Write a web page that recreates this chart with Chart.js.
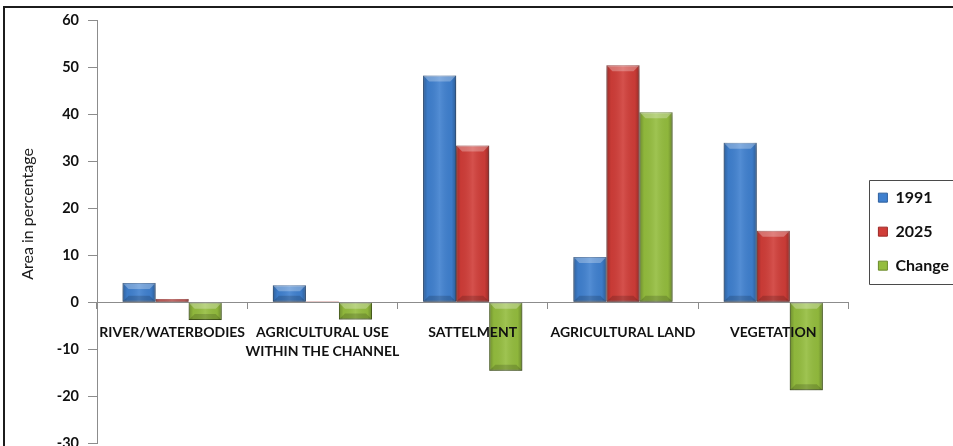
<!DOCTYPE html>
<html>
<head>
<meta charset="utf-8">
<title>Land use change 1991-2025</title>
<script src="https://cdn.jsdelivr.net/npm/chart.js@4"></script>
<style>
  html, body { margin: 0; padding: 0; background: #fff; overflow: hidden; }
  body { width: 953px; height: 446px; }
  /* the plot runs on below the visible frame, so the -30 row is cut in half */
  #wrap { position: relative; width: 953px; height: 461px; }
</style>
</head>
<body>
<div id="wrap"><canvas id="landUseChart"></canvas></div>
<script>
// land use classes and their share of the area (%)
const categories = [
  'RIVER/WATERBODIES',
  ['AGRICULTURAL USE', 'WITHIN THE CHANNEL'],
  'SATTELMENT',
  'AGRICULTURAL LAND',
  'VEGETATION'
];
const area1991 = [4.1, 3.6, 48.2, 9.6, 33.9];
const area2025 = [0.7, 0.2, 33.3, 50.4, 15.2];
const areaChange = [-3.8, -3.7, -14.6, 40.4, -18.7];
const yMin = -30, yMax = 60, yStep = 10;

Chart.defaults.font.family = 'Lato, "Open Sans", sans-serif';
const axisGrey = '#8c8c8c';

// outer frame, legend frame and the rotated axis title
const decorations = {
  id: 'decorations',
  afterLayout(chart) {
    chart.legend.left += 12;
    chart.legend.right += 12;
  },
  afterDraw(chart) {
    const {ctx, width, height} = chart;
    ctx.save();
    ctx.strokeStyle = '#1c1c1c';
    ctx.lineWidth = 2;
    ctx.beginPath();
    ctx.moveTo(4, height);
    ctx.lineTo(4, 7);
    ctx.lineTo(width, 7);
    ctx.stroke();

    const hb = chart.legend.legendHitBoxes;
    if (hb && hb.length) {
      const first = hb[0], last = hb[hb.length - 1];
      const x0 = Math.round(first.left - 9) + 0.5;
      const y0 = Math.round(first.top - 10) + 0.5;
      const y1 = Math.round(last.top + last.height + 10) + 0.5;
      ctx.strokeStyle = '#4a4a4a';
      ctx.lineWidth = 1;
      ctx.beginPath();
      ctx.moveTo(width + 5, y0);
      ctx.lineTo(x0, y0);
      ctx.lineTo(x0, y1);
      ctx.lineTo(width + 5, y1);
      ctx.stroke();
    }

    ctx.translate(28, 214);
    ctx.rotate(-Math.PI / 2);
    ctx.fillStyle = '#1a1a1a';
    ctx.font = '16px Lato, "Open Sans", sans-serif';
    ctx.textAlign = 'center';
    ctx.textBaseline = 'middle';
    ctx.fillText('Area in percentage', 0, 0);
    ctx.restore();
  }
};

// soft drop shadow plus a bevelled face on every bar
const bevel = {
  id: 'bevel',
  beforeDatasetsDraw(chart) {
    const ctx = chart.ctx;
    ctx.save();
    ctx.shadowColor = 'rgba(0,0,0,0.32)';
    ctx.shadowBlur = 6;
    ctx.shadowOffsetY = 3;
  },
  afterDatasetsDraw(chart) {
    const ctx = chart.ctx;
    ctx.restore();
    ctx.save();
    chart.data.datasets.forEach((ds, i) => {
      chart.getDatasetMeta(i).data.forEach(bar => {
        const {x, y, base, width} = bar.getProps(['x', 'y', 'base', 'width'], true);
        const left = x - width / 2;
        const top = Math.min(y, base);
        const h = Math.abs(base - y);
        if (h < 2) return;
        const g = ctx.createLinearGradient(left, 0, left + width, 0);
        g.addColorStop(0, 'rgba(0,0,0,0.25)');
        g.addColorStop(0.14, 'rgba(0,0,0,0.04)');
        g.addColorStop(0.5, 'rgba(255,255,255,0.10)');
        g.addColorStop(0.86, 'rgba(0,0,0,0.04)');
        g.addColorStop(1, 'rgba(0,0,0,0.28)');
        ctx.fillStyle = g;
        ctx.fillRect(left, top, width, h);
        const b = Math.min(6, h / 2);
        ctx.beginPath();
        ctx.moveTo(left, top);
        ctx.lineTo(left + width, top);
        ctx.lineTo(left + width - b, top + b);
        ctx.lineTo(left + b, top + b);
        ctx.closePath();
        ctx.fillStyle = 'rgba(255,255,255,0.28)';
        ctx.fill();
        ctx.beginPath();
        ctx.moveTo(left, top + h);
        ctx.lineTo(left + width, top + h);
        ctx.lineTo(left + width - b, top + h - b);
        ctx.lineTo(left + b, top + h - b);
        ctx.closePath();
        ctx.fillStyle = 'rgba(0,0,0,0.16)';
        ctx.fill();
      });
    });
    ctx.restore();
  }
};

new Chart(document.getElementById('landUseChart'), {
  type: 'bar',
  data: {
    labels: categories,
    datasets: [
      { label: '1991', data: area1991, backgroundColor: '#3f80cf', borderColor: '#2d5f9e' },
      { label: '2025', data: area2025, backgroundColor: '#d03d38', borderColor: '#9c2926' },
      { label: 'Change', data: areaChange, backgroundColor: '#94bd3e', borderColor: '#6a8a2a' }
    ]
  },
  options: {
    responsive: true,
    maintainAspectRatio: false,
    animation: false,
    datasets: {
      bar: { categoryPercentage: 0.66, barPercentage: 1, borderWidth: 1, borderSkipped: false }
    },
    layout: { padding: { top: 20, bottom: 3, left: 0, right: 6 } },
    plugins: {
      tooltip: { enabled: false },
      legend: {
        position: 'right',
        fullSize: false,
        labels: {
          boxWidth: 9,
          boxHeight: 9,
          padding: 18,
          color: '#111',
          font: { size: 16, weight: 'bold' }
        }
      }
    },
    scales: {
      x: {
        position: { y: 0 },
        ticks: {
          z: 1,
          color: '#111',
          font: { size: 14, weight: 'bold', lineHeight: 1.35 },
          maxRotation: 0,
          autoSkip: false,
          padding: 15
        },
        grid: { drawOnChartArea: false, tickLength: 6, color: axisGrey, offset: true },
        border: { color: axisGrey }
      },
      y: {
        min: yMin,
        max: yMax,
        ticks: {
          stepSize: yStep,
          color: '#111',
          font: { size: 14.5, weight: 'bold' },
          padding: 9
        },
        grid: { drawOnChartArea: false, tickLength: 9, color: axisGrey },
        border: { color: axisGrey },
        afterFit(scale) { scale.width = 97; }
      }
    }
  },
  plugins: [bevel, decorations]
});
</script>
</body>
</html>
